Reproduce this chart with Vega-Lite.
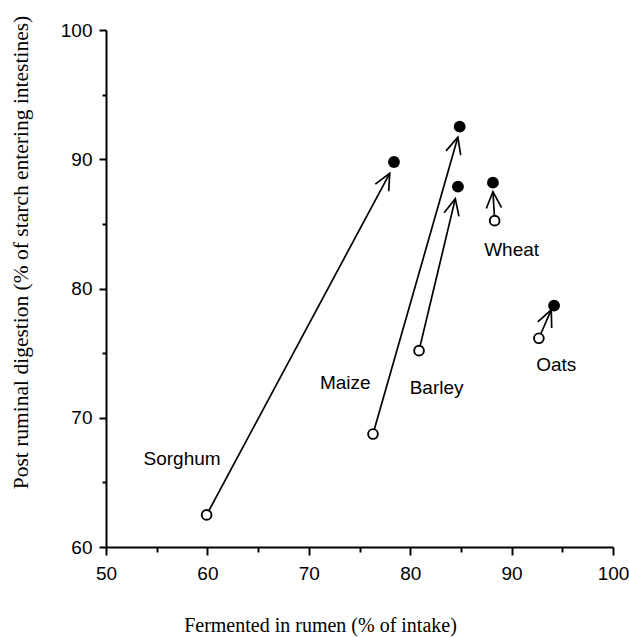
{
  "$schema": "https://vega.github.io/schema/vega-lite/v6.json",
  "width": 507,
  "height": 517,
  "autosize": {"type": "none"},
  "padding": {"left": 106, "top": 30, "right": 16, "bottom": 90},
  "background": "white",
  "config": {
    "view": {"stroke": null},
    "axis": {
      "grid": false,
      "domainColor": "black",
      "domainWidth": 2,
      "tickColor": "black",
      "tickWidth": 2,
      "labelFont": "Liberation Sans",
      "labelFontSize": 19,
      "labelColor": "black",
      "labelFlush": false,
      "titleFont": "Liberation Serif",
      "titleFontSize": 20,
      "titleFontWeight": "normal",
      "titleColor": "black"
    }
  },
  "data": {
    "values": [
      {"crop": "Sorghum", "x_open": 59.92, "y_open": 62.48, "x_fill": 78.4, "y_fill": 89.79, "x_tip": 77.98, "y_tip": 88.91, "label_x": 57.5, "label_y": 66.8},
      {"crop": "Maize", "x_open": 76.33, "y_open": 68.74, "x_fill": 84.88, "y_fill": 92.52, "x_tip": 84.7, "y_tip": 91.7, "label_x": 73.6, "label_y": 72.7},
      {"crop": "Barley", "x_open": 80.87, "y_open": 75.19, "x_fill": 84.71, "y_fill": 87.88, "x_tip": 84.45, "y_tip": 86.95, "label_x": 82.6, "label_y": 72.3},
      {"crop": "Wheat", "x_open": 88.33, "y_open": 85.25, "x_fill": 88.16, "y_fill": 88.19, "x_tip": 88.16, "y_tip": 87.49, "label_x": 90.0, "label_y": 82.95},
      {"crop": "Oats", "x_open": 92.69, "y_open": 76.15, "x_fill": 94.19, "y_fill": 78.68, "x_tip": 93.91, "y_tip": 78.34, "label_x": 94.4, "label_y": 74.1}
    ]
  },
  "transform": [
    {"calculate": "atan2((datum.x_tip - datum.x_open) * 10.14, (datum.y_tip - datum.y_open) * 12.925) * 180 / PI", "as": "heading"}
  ],
  "layer": [
    {
      "mark": {"type": "rule", "stroke": "black", "strokeWidth": 1.7},
      "encoding": {
        "x": {
          "field": "x_open",
          "type": "quantitative",
          "scale": {"domain": [50, 100], "nice": false, "zero": false},
          "axis": {
            "values": [50, 55, 60, 65, 70, 75, 80, 85, 90, 95, 100],
            "labelExpr": "datum.value % 10 === 0 ? datum.label : ''",
            "tickSize": {"condition": {"test": "datum.value % 10 === 0", "value": 8}, "value": 5},
            "labelPadding": 9,
            "title": "Fermented in rumen (% of intake)",
            "titleX": 214,
            "titleY": 84,
            "titleAlign": "center",
            "titleBaseline": "alphabetic"
          }
        },
        "y": {
          "field": "y_open",
          "type": "quantitative",
          "scale": {"domain": [60, 100], "nice": false, "zero": false},
          "axis": {
            "values": [60, 65, 70, 75, 80, 85, 90, 95, 100],
            "labelExpr": "datum.value % 10 === 0 ? datum.label : ''",
            "tickSize": {"condition": {"test": "datum.value % 10 === 0", "value": 7}, "value": 4},
            "labelPadding": 7,
            "title": "Post ruminal digestion (% of starch entering intestines)",
            "titleFontSize": 21.5,
            "titleX": -79,
            "titleY": 222,
            "titleAlign": "center",
            "titleBaseline": "alphabetic",
            "titleAngle": -90
          }
        },
        "x2": {"field": "x_tip"},
        "y2": {"field": "y_tip"}
      }
    },
    {
      "mark": {"type": "point", "shape": "M -0.42 0.9 L 0 0 L 0.42 0.9", "filled": false, "stroke": "black", "strokeWidth": 1.7, "size": 1316, "opacity": 1},
      "encoding": {
        "x": {"field": "x_tip", "type": "quantitative"},
        "y": {"field": "y_tip", "type": "quantitative"},
        "angle": {"field": "heading", "type": "quantitative", "scale": null}
      }
    },
    {
      "mark": {"type": "point", "shape": "circle", "size": 95, "fill": "white", "stroke": "black", "strokeWidth": 1.9, "opacity": 1},
      "encoding": {
        "x": {"field": "x_open", "type": "quantitative"},
        "y": {"field": "y_open", "type": "quantitative"}
      }
    },
    {
      "mark": {"type": "circle", "size": 140, "fill": "black", "opacity": 1},
      "encoding": {
        "x": {"field": "x_fill", "type": "quantitative"},
        "y": {"field": "y_fill", "type": "quantitative"}
      }
    },
    {
      "mark": {"type": "text", "font": "Liberation Sans", "fontSize": 19, "fill": "black", "align": "center", "baseline": "middle"},
      "encoding": {
        "x": {"field": "label_x", "type": "quantitative"},
        "y": {"field": "label_y", "type": "quantitative"},
        "text": {"field": "crop", "type": "nominal"}
      }
    }
  ]
}
